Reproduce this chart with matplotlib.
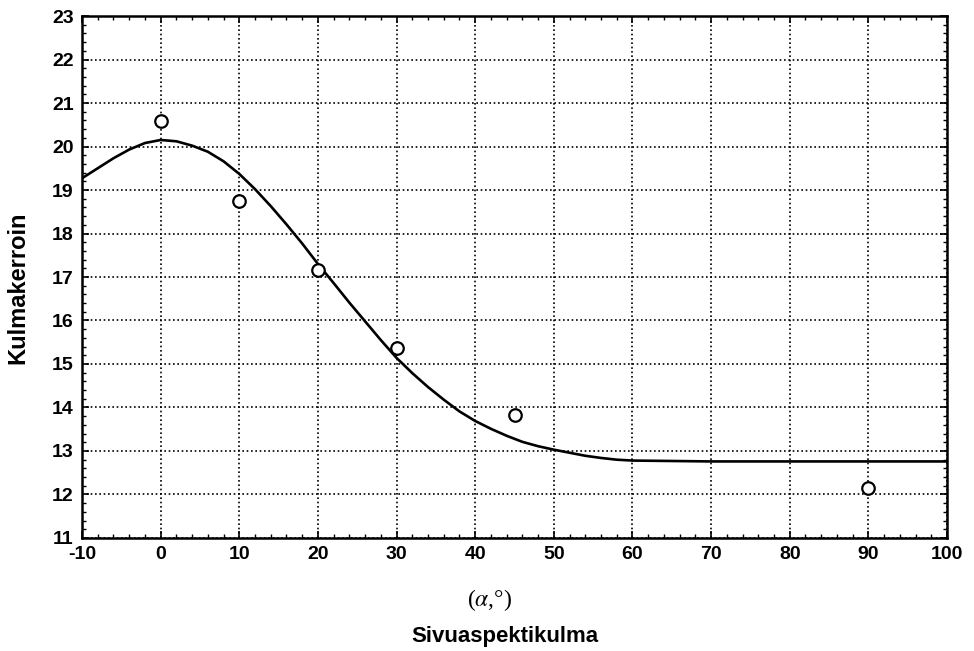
import matplotlib
matplotlib.use('Agg')
import matplotlib.pyplot as plt
from matplotlib.ticker import MultipleLocator, AutoMinorLocator

# measured points
angle = [0, 10, 20, 30, 45, 90]
coef = [20.59, 18.74, 17.15, 15.36, 13.83, 12.16]

# fitted curve
fit_x = [-10, -8, -6, -4, -2, 0, 2, 4, 6, 8, 10, 12, 14, 16, 18, 20, 22, 24, 26,
         28, 30, 32, 34, 36, 38, 40, 42, 44, 46, 48, 50, 52, 54, 56, 58, 60,
         65, 70, 75, 80, 85, 90, 95, 100]
fit_y = [19.27, 19.50, 19.73, 19.93, 20.08, 20.15, 20.12, 20.02, 19.88, 19.66,
         19.37, 19.02, 18.63, 18.21, 17.77, 17.30, 16.86, 16.41, 15.98,
         15.55, 15.14, 14.79, 14.47, 14.18, 13.91, 13.69, 13.51, 13.35, 13.21,
         13.11, 13.03, 12.96, 12.89, 12.84, 12.80, 12.78,
         12.77, 12.76, 12.76, 12.76, 12.76, 12.76, 12.76, 12.76]

plt.rcParams['font.family'] = ['Liberation Sans Narrow', 'Liberation Sans', 'DejaVu Sans']
plt.rcParams['axes.unicode_minus'] = False
plt.rcParams['mathtext.fontset'] = 'stix'

fig = plt.figure(figsize=(9.74, 6.51), dpi=100)
ax = fig.add_axes([0.0842, 0.1736, 0.8881, 0.8018])

ax.plot(fit_x, fit_y, color='black', linewidth=1.9, zorder=3, solid_joinstyle='round')
ax.plot(angle, coef, linestyle='none', marker='o', markersize=9, markerfacecolor='white',
        markeredgecolor='black', markeredgewidth=1.6, zorder=4)

ax.set_xlim(-10, 100)
ax.set_ylim(11, 23)
ax.xaxis.set_major_locator(MultipleLocator(10))
ax.yaxis.set_major_locator(MultipleLocator(1))
ax.xaxis.set_minor_locator(AutoMinorLocator(5))
ax.yaxis.set_minor_locator(AutoMinorLocator(5))
ax.tick_params(which='both', direction='in', top=True, right=True, color='black')
ax.tick_params(which='major', length=5, width=1.2, labelsize=14, pad=6)
ax.tick_params(which='minor', length=3, width=1.0)
for lbl in ax.get_xticklabels() + ax.get_yticklabels():
    lbl.set_fontweight('bold')

ax.grid(True, which='major', color='black', linestyle=(0, (1, 1.6)), linewidth=1.2)
for s in ax.spines.values():
    s.set_linewidth(1.8)

ax.set_ylabel('Kulmakerroin', fontsize=17, fontweight='bold')
ax.yaxis.set_label_coords(-0.061, 0.479)
fig.text(0.503, 0.078, r'($\alpha$,°)', ha='center', va='center', fontsize=17,
         family=['Liberation Serif', 'DejaVu Serif'])
fig.text(0.518, 0.023, 'Sivuaspektikulma', ha='center', va='center', fontsize=16,
         fontweight='bold')

fig.savefig('out.png', dpi=100)
